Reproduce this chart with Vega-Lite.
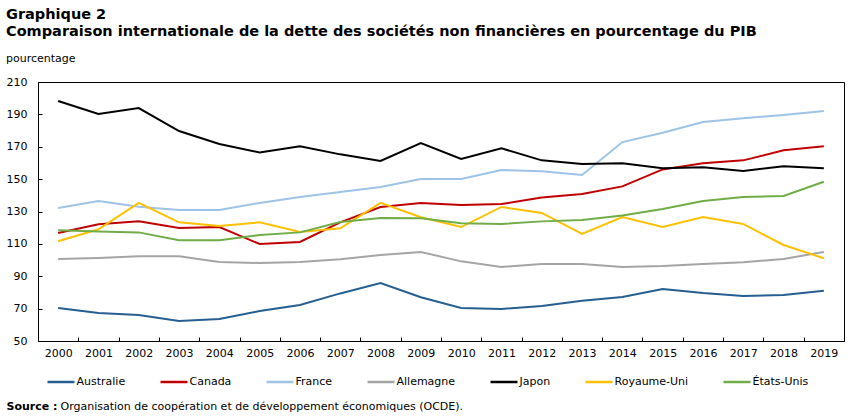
{
  "$schema": "https://vega.github.io/schema/vega-lite/v6.json",
  "width": 806,
  "height": 259,
  "autosize": {"type": "none"},
  "padding": {"left": 38, "top": 82, "right": 8, "bottom": 76},
  "background": "white",
  "title": {
    "text": ["Graphique 2", "Comparaison internationale de la dette des sociétés non financières en pourcentage du PIB"],
    "subtitle": "pourcentage",
    "anchor": "start",
    "frame": "group",
    "dx": -32,
    "offset": 11,
    "font": "DejaVu Sans",
    "fontSize": 14.5,
    "fontWeight": "bold",
    "color": "#000000",
    "lineHeight": 17,
    "subtitleFont": "DejaVu Sans",
    "subtitleFontSize": 11,
    "subtitleFontWeight": "normal",
    "subtitleColor": "#000000",
    "subtitlePadding": 14
  },
  "data": {
    "values": [
      {"annee": "2000", "pays": "Australie", "valeur": 70.4},
      {"annee": "2001", "pays": "Australie", "valeur": 67.3},
      {"annee": "2002", "pays": "Australie", "valeur": 66.1},
      {"annee": "2003", "pays": "Australie", "valeur": 62.3},
      {"annee": "2004", "pays": "Australie", "valeur": 63.6},
      {"annee": "2005", "pays": "Australie", "valeur": 68.5},
      {"annee": "2006", "pays": "Australie", "valeur": 72.2},
      {"annee": "2007", "pays": "Australie", "valeur": 79.4},
      {"annee": "2008", "pays": "Australie", "valeur": 85.8},
      {"annee": "2009", "pays": "Australie", "valeur": 77.0},
      {"annee": "2010", "pays": "Australie", "valeur": 70.4},
      {"annee": "2011", "pays": "Australie", "valeur": 69.8},
      {"annee": "2012", "pays": "Australie", "valeur": 71.6},
      {"annee": "2013", "pays": "Australie", "valeur": 74.9},
      {"annee": "2014", "pays": "Australie", "valeur": 77.2},
      {"annee": "2015", "pays": "Australie", "valeur": 82.1},
      {"annee": "2016", "pays": "Australie", "valeur": 79.6},
      {"annee": "2017", "pays": "Australie", "valeur": 77.8},
      {"annee": "2018", "pays": "Australie", "valeur": 78.4},
      {"annee": "2019", "pays": "Australie", "valeur": 81.1},
      {"annee": "2000", "pays": "Canada", "valeur": 116.7},
      {"annee": "2001", "pays": "Canada", "valeur": 122.1},
      {"annee": "2002", "pays": "Canada", "valeur": 123.9},
      {"annee": "2003", "pays": "Canada", "valeur": 119.8},
      {"annee": "2004", "pays": "Canada", "valeur": 120.4},
      {"annee": "2005", "pays": "Canada", "valeur": 109.9},
      {"annee": "2006", "pays": "Canada", "valeur": 111.2},
      {"annee": "2007", "pays": "Canada", "valeur": 123.3},
      {"annee": "2008", "pays": "Canada", "valeur": 132.8},
      {"annee": "2009", "pays": "Canada", "valeur": 135.3},
      {"annee": "2010", "pays": "Canada", "valeur": 134.0},
      {"annee": "2011", "pays": "Canada", "valeur": 134.6},
      {"annee": "2012", "pays": "Canada", "valeur": 138.7},
      {"annee": "2013", "pays": "Canada", "valeur": 140.8},
      {"annee": "2014", "pays": "Canada", "valeur": 145.5},
      {"annee": "2015", "pays": "Canada", "valeur": 156.0},
      {"annee": "2016", "pays": "Canada", "valeur": 159.8},
      {"annee": "2017", "pays": "Canada", "valeur": 161.6},
      {"annee": "2018", "pays": "Canada", "valeur": 167.8},
      {"annee": "2019", "pays": "Canada", "valeur": 170.3},
      {"annee": "2000", "pays": "France", "valeur": 132.2},
      {"annee": "2001", "pays": "France", "valeur": 136.5},
      {"annee": "2002", "pays": "France", "valeur": 133.0},
      {"annee": "2003", "pays": "France", "valeur": 130.9},
      {"annee": "2004", "pays": "France", "valeur": 130.9},
      {"annee": "2005", "pays": "France", "valeur": 135.3},
      {"annee": "2006", "pays": "France", "valeur": 139.0},
      {"annee": "2007", "pays": "France", "valeur": 142.0},
      {"annee": "2008", "pays": "France", "valeur": 145.1},
      {"annee": "2009", "pays": "France", "valeur": 150.1},
      {"annee": "2010", "pays": "France", "valeur": 150.1},
      {"annee": "2011", "pays": "France", "valeur": 155.6},
      {"annee": "2012", "pays": "France", "valeur": 154.8},
      {"annee": "2013", "pays": "France", "valeur": 152.5},
      {"annee": "2014", "pays": "France", "valeur": 172.9},
      {"annee": "2015", "pays": "France", "valeur": 178.7},
      {"annee": "2016", "pays": "France", "valeur": 185.3},
      {"annee": "2017", "pays": "France", "valeur": 187.6},
      {"annee": "2018", "pays": "France", "valeur": 189.6},
      {"annee": "2019", "pays": "France", "valeur": 192.1},
      {"annee": "2000", "pays": "Allemagne", "valeur": 100.7},
      {"annee": "2001", "pays": "Allemagne", "valeur": 101.3},
      {"annee": "2002", "pays": "Allemagne", "valeur": 102.3},
      {"annee": "2003", "pays": "Allemagne", "valeur": 102.3},
      {"annee": "2004", "pays": "Allemagne", "valeur": 98.8},
      {"annee": "2005", "pays": "Allemagne", "valeur": 98.2},
      {"annee": "2006", "pays": "Allemagne", "valeur": 98.8},
      {"annee": "2007", "pays": "Allemagne", "valeur": 100.5},
      {"annee": "2008", "pays": "Allemagne", "valeur": 103.1},
      {"annee": "2009", "pays": "Allemagne", "valeur": 105.0},
      {"annee": "2010", "pays": "Allemagne", "valeur": 99.2},
      {"annee": "2011", "pays": "Allemagne", "valeur": 95.7},
      {"annee": "2012", "pays": "Allemagne", "valeur": 97.6},
      {"annee": "2013", "pays": "Allemagne", "valeur": 97.6},
      {"annee": "2014", "pays": "Allemagne", "valeur": 95.7},
      {"annee": "2015", "pays": "Allemagne", "valeur": 96.3},
      {"annee": "2016", "pays": "Allemagne", "valeur": 97.6},
      {"annee": "2017", "pays": "Allemagne", "valeur": 98.6},
      {"annee": "2018", "pays": "Allemagne", "valeur": 100.7},
      {"annee": "2019", "pays": "Allemagne", "valeur": 105.0},
      {"annee": "2000", "pays": "Japon", "valeur": 198.3},
      {"annee": "2001", "pays": "Japon", "valeur": 190.2},
      {"annee": "2002", "pays": "Japon", "valeur": 193.9},
      {"annee": "2003", "pays": "Japon", "valeur": 179.7},
      {"annee": "2004", "pays": "Japon", "valeur": 171.7},
      {"annee": "2005", "pays": "Japon", "valeur": 166.5},
      {"annee": "2006", "pays": "Japon", "valeur": 170.3},
      {"annee": "2007", "pays": "Japon", "valeur": 165.3},
      {"annee": "2008", "pays": "Japon", "valeur": 161.2},
      {"annee": "2009", "pays": "Japon", "valeur": 172.3},
      {"annee": "2010", "pays": "Japon", "valeur": 162.4},
      {"annee": "2011", "pays": "Japon", "valeur": 169.0},
      {"annee": "2012", "pays": "Japon", "valeur": 161.6},
      {"annee": "2013", "pays": "Japon", "valeur": 159.3},
      {"annee": "2014", "pays": "Japon", "valeur": 159.8},
      {"annee": "2015", "pays": "Japon", "valeur": 156.7},
      {"annee": "2016", "pays": "Japon", "valeur": 157.3},
      {"annee": "2017", "pays": "Japon", "valeur": 155.0},
      {"annee": "2018", "pays": "Japon", "valeur": 157.9},
      {"annee": "2019", "pays": "Japon", "valeur": 156.7},
      {"annee": "2000", "pays": "Royaume-Uni", "valeur": 111.6},
      {"annee": "2001", "pays": "Royaume-Uni", "valeur": 119.0},
      {"annee": "2002", "pays": "Royaume-Uni", "valeur": 135.3},
      {"annee": "2003", "pays": "Royaume-Uni", "valeur": 123.3},
      {"annee": "2004", "pays": "Royaume-Uni", "valeur": 121.0},
      {"annee": "2005", "pays": "Royaume-Uni", "valeur": 123.3},
      {"annee": "2006", "pays": "Royaume-Uni", "valeur": 117.3},
      {"annee": "2007", "pays": "Royaume-Uni", "valeur": 119.6},
      {"annee": "2008", "pays": "Royaume-Uni", "valeur": 135.3},
      {"annee": "2009", "pays": "Royaume-Uni", "valeur": 126.5},
      {"annee": "2010", "pays": "Royaume-Uni", "valeur": 120.4},
      {"annee": "2011", "pays": "Royaume-Uni", "valeur": 132.8},
      {"annee": "2012", "pays": "Royaume-Uni", "valeur": 129.1},
      {"annee": "2013", "pays": "Royaume-Uni", "valeur": 116.1},
      {"annee": "2014", "pays": "Royaume-Uni", "valeur": 126.6},
      {"annee": "2015", "pays": "Royaume-Uni", "valeur": 120.4},
      {"annee": "2016", "pays": "Royaume-Uni", "valeur": 126.6},
      {"annee": "2017", "pays": "Royaume-Uni", "valeur": 122.3},
      {"annee": "2018", "pays": "Royaume-Uni", "valeur": 109.3},
      {"annee": "2019", "pays": "Royaume-Uni", "valeur": 101.1},
      {"annee": "2000", "pays": "États-Unis", "valeur": 118.4},
      {"annee": "2001", "pays": "États-Unis", "valeur": 117.7},
      {"annee": "2002", "pays": "États-Unis", "valeur": 117.1},
      {"annee": "2003", "pays": "États-Unis", "valeur": 112.2},
      {"annee": "2004", "pays": "États-Unis", "valeur": 112.2},
      {"annee": "2005", "pays": "États-Unis", "valeur": 115.5},
      {"annee": "2006", "pays": "États-Unis", "valeur": 117.1},
      {"annee": "2007", "pays": "États-Unis", "valeur": 123.5},
      {"annee": "2008", "pays": "États-Unis", "valeur": 126.0},
      {"annee": "2009", "pays": "États-Unis", "valeur": 125.8},
      {"annee": "2010", "pays": "États-Unis", "valeur": 122.7},
      {"annee": "2011", "pays": "États-Unis", "valeur": 122.3},
      {"annee": "2012", "pays": "États-Unis", "valeur": 123.9},
      {"annee": "2013", "pays": "États-Unis", "valeur": 124.7},
      {"annee": "2014", "pays": "États-Unis", "valeur": 127.6},
      {"annee": "2015", "pays": "États-Unis", "valeur": 131.5},
      {"annee": "2016", "pays": "États-Unis", "valeur": 136.5},
      {"annee": "2017", "pays": "États-Unis", "valeur": 139.0},
      {"annee": "2018", "pays": "États-Unis", "valeur": 139.6},
      {"annee": "2019", "pays": "États-Unis", "valeur": 148.4}
    ]
  },
  "mark": {"type": "line", "strokeWidth": 2, "clip": true},
  "encoding": {
    "x": {
      "field": "annee",
      "type": "ordinal",
      "bandPosition": 0.5,
      "scale": {"type": "band", "paddingInner": 0, "paddingOuter": 0},
      "axis": {
        "title": "Source :",
        "titleFontWeight": "bold",
        "titleFontSize": 11,
        "titleAlign": "left",
        "titleBaseline": "alphabetic",
        "titleAnchor": "start",
        "titleX": -32,
        "titleY": 68,
        "labelAngle": 0,
        "labelPadding": 10,
        "tickBand": "extent",
        "tickSize": -4
      }
    },
    "y": {
      "field": "valeur",
      "type": "quantitative",
      "scale": {"domain": [50, 210], "nice": false, "zero": false},
      "axis": {
        "values": [50, 70, 90, 110, 130, 150, 170, 190, 210],
        "title": "Organisation de coopération et de développement économiques (OCDE).",
        "titleFontWeight": "normal",
        "titleFontSize": 11,
        "titleAngle": 0,
        "titleAlign": "left",
        "titleBaseline": "alphabetic",
        "titleAnchor": "start",
        "titleX": 22,
        "titleY": 327,
        "labelPadding": 15,
        "tickSize": -4
      }
    },
    "color": {
      "field": "pays",
      "type": "nominal",
      "scale": {
        "domain": ["Australie", "Canada", "France", "Allemagne", "Japon", "Royaume-Uni", "États-Unis"],
        "range": ["#255e91", "#c00000", "#9dc3e6", "#a5a5a5", "#000000", "#ffc000", "#70ad47"]
      },
      "legend": {
        "title": null,
        "orient": "none",
        "legendX": 8,
        "legendY": 285,
        "direction": "horizontal",
        "columns": 7,
        "columnPadding": 29,
        "symbolType": "stroke",
        "symbolSize": 729,
        "symbolStrokeWidth": 2.5,
        "labelOffset": 0.5,
        "labelFontSize": 11,
        "labelColor": "#000000",
        "labelLimit": 200
      }
    }
  },
  "config": {
    "font": "DejaVu Sans",
    "view": {"stroke": "#000000", "strokeWidth": 1},
    "axis": {
      "grid": false,
      "domainColor": "#000000",
      "tickColor": "#000000",
      "labelColor": "#000000",
      "labelFontSize": 11,
      "labelFont": "DejaVu Sans",
      "titleColor": "#000000",
      "titleFont": "DejaVu Sans"
    }
  }
}
